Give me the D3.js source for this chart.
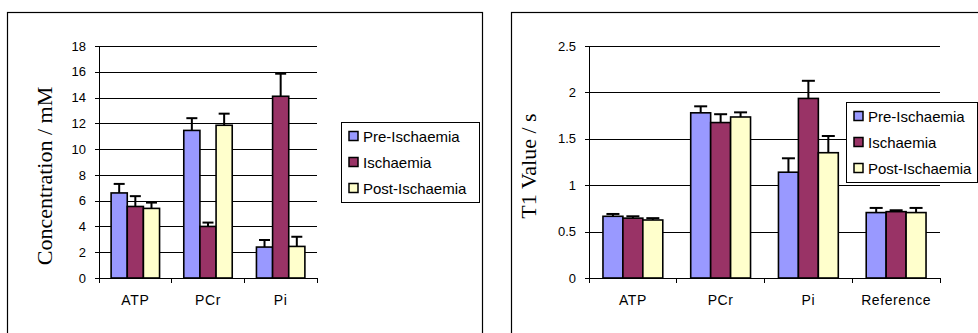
<!DOCTYPE html>
<html>
<head>
<meta charset="utf-8">
<script src="https://cdn.jsdelivr.net/npm/d3@7"></script>
<style>
  body { margin: 0; background: #fff; }
  svg { display: block; }
</style>
</head>
<body>
<svg id="chart" width="978" height="333" font-family="Liberation Sans, Arial, sans-serif"></svg>
<script>
// data
const series = ["Pre-Ischaemia", "Ischaemia", "Post-Ischaemia"]
const colors = ["#9999ff", "#993366", "#ffffcc"]

const concCats = ["ATP", "PCr", "Pi"]
const concMean = [
  [6.6, 11.45, 2.4],    // Pre-Ischaemia
  [5.55, 4.0, 14.1],    // Ischaemia
  [5.4, 11.85, 2.45]    // Post-Ischaemia
]
const concErr = [
  [0.7, 0.95, 0.55],
  [0.8, 0.3, 1.75],
  [0.45, 0.9, 0.75]
]
const concTicks = [0, 2, 4, 6, 8, 10, 12, 14, 16, 18]

const t1Cats = ["ATP", "PCr", "Pi", "Reference"]
const t1Mean = [
  [0.665, 1.78, 1.14, 0.705],
  [0.645, 1.675, 1.935, 0.715],
  [0.625, 1.735, 1.35, 0.705]
]
const t1Err = [
  [0.025, 0.07, 0.15, 0.05],
  [0.02, 0.09, 0.19, 0.015],
  [0.02, 0.05, 0.18, 0.05]
]
const t1Ticks = [0, 0.5, 1, 1.5, 2, 2.5]

const svg = d3.select("#chart")
const sans = "Liberation Sans, Arial, sans-serif"

function BarChart(opt) {
  const g = svg.append("g")

  // outer chart frame (bottom / right run off the picture)
  g.append("rect")
    .attr("x", opt.frame[0] + 0.5).attr("y", opt.frame[1] + 0.5)
    .attr("width", opt.frame[2]).attr("height", opt.frame[3])
    .attr("fill", "none").attr("stroke", "#000").attr("stroke-width", 1.2)

  const p = opt.plot
  const y = d3.scaleLinear().domain([0, opt.max]).range([p.bottom, p.top])
  const x0 = d3.scaleBand().domain(opt.cats).range([p.left, p.right])
  const gap = x0.bandwidth() * opt.gap / (3 + opt.gap)
  const x1 = d3.scaleBand().domain(series).range([gap / 2, x0.bandwidth() - gap / 2])

  // gridlines
  g.append("g")
    .attr("transform", `translate(${p.left},0)`)
    .call(d3.axisLeft(y).tickValues(opt.ticks).tickSize(-(p.right - p.left)).tickFormat(""))
    .call(a => a.select(".domain").remove())
    .call(a => a.selectAll("line").attr("stroke", "#000").attr("shape-rendering", "crispEdges"))

  // y axis
  g.append("g")
    .attr("transform", `translate(${p.left},0)`)
    .call(d3.axisLeft(y).tickValues(opt.ticks).tickSize(4).tickPadding(9).tickFormat(d3.format("~g")))
    .call(a => a.attr("font-family", sans).attr("font-size", 13))
    .call(a => a.select(".domain").attr("stroke", "#000").attr("shape-rendering", "crispEdges"))
    .call(a => a.selectAll("line").attr("stroke", "#000").attr("shape-rendering", "crispEdges"))

  // x axis with ticks between categories
  const xa = g.append("g").attr("transform", `translate(0,${p.bottom})`)
  xa.append("line")
    .attr("x1", p.left).attr("x2", p.right)
    .attr("stroke", "#000").attr("shape-rendering", "crispEdges")
  const edges = opt.cats.map(c => x0(c)).concat([p.right])
  xa.selectAll(".tk").data(edges).join("line")
    .attr("x1", d => d).attr("x2", d => d).attr("y1", 0).attr("y2", 5)
    .attr("stroke", "#000").attr("shape-rendering", "crispEdges")
  xa.selectAll(".lab").data(opt.cats).join("text")
    .attr("x", d => x0(d) + x0.bandwidth() / 2)
    .attr("y", 27)
    .attr("text-anchor", "middle")
    .attr("font-size", 14)
    .attr("letter-spacing", 0.6)
    .text(d => d)

  // bars + error bars
  series.forEach((s, si) => {
    const sg = g.append("g")
    opt.cats.forEach((c, ci) => {
      const v = opt.mean[si][ci], e = opt.err[si][ci]
      const bx = x0(c) + x1(s), bw = x1.bandwidth()
      const cx = bx + bw / 2
      sg.append("line")
        .attr("x1", cx).attr("x2", cx).attr("y1", y(v)).attr("y2", y(v + e))
        .attr("stroke", "#000").attr("stroke-width", 2)
      sg.append("line")
        .attr("x1", cx - opt.cap / 2).attr("x2", cx + opt.cap / 2)
        .attr("y1", y(v + e)).attr("y2", y(v + e))
        .attr("stroke", "#000").attr("stroke-width", 2)
      sg.append("rect")
        .attr("x", bx).attr("y", y(v))
        .attr("width", bw).attr("height", y(0) - y(v))
        .attr("fill", colors[si]).attr("stroke", "#000").attr("stroke-width", 1.6)
    })
  })

  // y title
  g.append("text")
    .attr("transform", `translate(${opt.titleX},${opt.titleY}) rotate(-90)`)
    .attr("text-anchor", "middle")
    .attr("font-family", "Liberation Serif, Times New Roman, serif")
    .attr("font-size", 22)
    .text(opt.title)

  // legend
  const L = opt.legend
  const lg = g.append("g").attr("transform", `translate(${L.x},${L.y})`)
  lg.append("rect")
    .attr("x", 0.5).attr("y", 0.5).attr("width", L.w).attr("height", L.h)
    .attr("fill", "#fff").attr("stroke", "#000")
  series.forEach((s, i) => {
    const ry = 14 + i * 26
    lg.append("rect")
      .attr("x", 8).attr("y", ry - 4.5).attr("width", 9).attr("height", 9)
      .attr("fill", colors[i]).attr("stroke", "#000").attr("stroke-width", 1.5)
    lg.append("text")
      .attr("x", 22).attr("y", ry + 5.5)
      .attr("font-size", 15)
      .text(s)
  })
}

BarChart({
  frame: [7, 12, 475, 340],
  plot: {left: 99, right: 317, top: 46, bottom: 278},
  cats: concCats, mean: concMean, err: concErr,
  max: 18, ticks: concTicks, gap: 1.5, cap: 11,
  title: "Concentration / mM", titleX: 52, titleY: 176,
  legend: {x: 341, y: 122, w: 138, h: 80}
})

BarChart({
  frame: [511, 12, 480, 340],
  plot: {left: 589, right: 940, top: 46, bottom: 278},
  cats: t1Cats, mean: t1Mean, err: t1Err,
  max: 2.5, ticks: t1Ticks, gap: 1.4, cap: 13,
  title: "T1 Value / s", titleX: 536, titleY: 166,
  legend: {x: 846, y: 102, w: 131, h: 80}
})
</script>
</body>
</html>
